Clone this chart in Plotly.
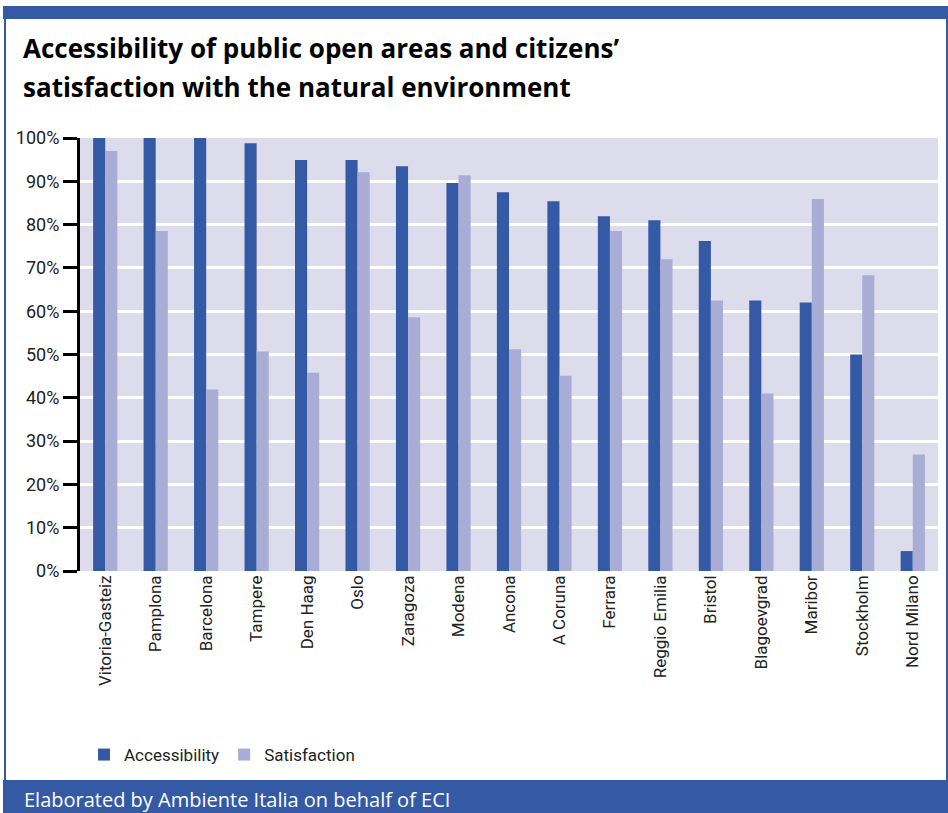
import plotly.graph_objects as go

cities = ["Vitoria-Gasteiz", "Pamplona", "Barcelona", "Tampere", "Den Haag", "Oslo",
          "Zaragoza", "Modena", "Ancona", "A Coruna", "Ferrara", "Reggio Emilia",
          "Bristol", "Blagoevgrad", "Maribor", "Stockholm", "Nord Milano"]
accessibility = [100, 100, 100, 98.8, 94.9, 94.9, 93.5, 89.6, 87.5, 85.4, 81.9, 81.0,
                 76.2, 62.5, 62.0, 50.0, 4.6]
satisfaction = [97.0, 78.5, 41.9, 50.7, 45.8, 92.1, 58.6, 91.4, 51.2, 45.1, 78.5, 72.0,
                62.5, 41.0, 85.9, 68.3, 26.9]

W, H = 948, 813
ML, MR, MT, MB = 80, 10, 138, 242
PW, PH = W - ML - MR, H - MT - MB


def px_x(x):
    return (x - ML) / PW


def px_y(y):
    return (H - MB - y) / PH


BLUE = "#345aa6"
LIGHT = "#a9acd4"
FONT = "Roboto, Liberation Sans, sans-serif"
TITLE_FONT = "Open Sans, DejaVu Sans, sans-serif"

fig = go.Figure()
fig.add_trace(go.Bar(x=cities, y=accessibility, name="Accessibility",
                     marker=dict(color=BLUE, line=dict(width=0))))
fig.add_trace(go.Bar(x=cities, y=satisfaction, name="Satisfaction",
                     marker=dict(color=LIGHT, line=dict(width=0))))

shapes = [
    # top bar
    dict(type="rect", xref="paper", yref="paper", x0=px_x(3), x1=px_x(948),
         y0=px_y(19), y1=px_y(6), fillcolor=BLUE, line=dict(width=0)),
    # left / right borders
    dict(type="rect", xref="paper", yref="paper", x0=px_x(4), x1=px_x(6),
         y0=px_y(813), y1=px_y(6), fillcolor=BLUE, line=dict(width=0)),
    dict(type="rect", xref="paper", yref="paper", x0=px_x(946), x1=px_x(948),
         y0=px_y(813), y1=px_y(6), fillcolor=BLUE, line=dict(width=0)),
    # footer band
    dict(type="rect", xref="paper", yref="paper", x0=px_x(3), x1=px_x(948),
         y0=px_y(813), y1=px_y(780), fillcolor=BLUE, line=dict(width=0)),
]

annotations = [
    dict(text="<b>Accessibility of public open areas and citizens’</b>",
         xref="paper", yref="paper", x=px_x(21), y=px_y(48), xanchor="left", yanchor="middle",
         showarrow=False, font=dict(family=TITLE_FONT, size=26, color="#000000")),
    dict(text="<b>satisfaction with the natural environment</b>",
         xref="paper", yref="paper", x=px_x(21), y=px_y(87), xanchor="left", yanchor="middle",
         showarrow=False, font=dict(family=TITLE_FONT, size=26, color="#000000")),
    dict(text="Elaborated by Ambiente Italia on behalf of ECI",
         xref="paper", yref="paper", x=px_x(22), y=px_y(799), xanchor="left", yanchor="middle",
         showarrow=False, font=dict(family=TITLE_FONT, size=20, color="#ffffff")),
]

fig.update_layout(
    width=W, height=H,
    margin=dict(l=ML, r=MR, t=MT, b=MB),
    paper_bgcolor="#ffffff",
    plot_bgcolor="#dddced",
    barmode="group",
    bargap=0.52,
    bargroupgap=0,
    font=dict(family=FONT, size=17, color="#222222"),
    shapes=shapes,
    annotations=annotations,
    showlegend=True,
    legend=dict(orientation="h", x=px_x(84), y=px_y(737), xanchor="left", yanchor="top",
                font=dict(family=FONT, size=17, color="#222222"),
                itemwidth=30, traceorder="normal", bgcolor="rgba(0,0,0,0)"),
)

fig.update_yaxes(range=[0, 100], dtick=10, ticksuffix="%",
                 showgrid=True, gridcolor="#ffffff", gridwidth=3,
                 showline=True, linecolor="#000000", linewidth=3,
                 ticks="outside", ticklen=14, tickwidth=3, tickcolor="#000000",
                 tickfont=dict(family=FONT, size=18, color="#222222"),
                 zeroline=False, fixedrange=True)
fig.update_xaxes(tickangle=-90, showline=False, ticks="",
                 tickfont=dict(family=FONT, size=17, color="#222222"),
                 fixedrange=True)

fig.write_html("out.html", config={"displayModeBar": False},
               post_script="document.body.style.margin='0';")
